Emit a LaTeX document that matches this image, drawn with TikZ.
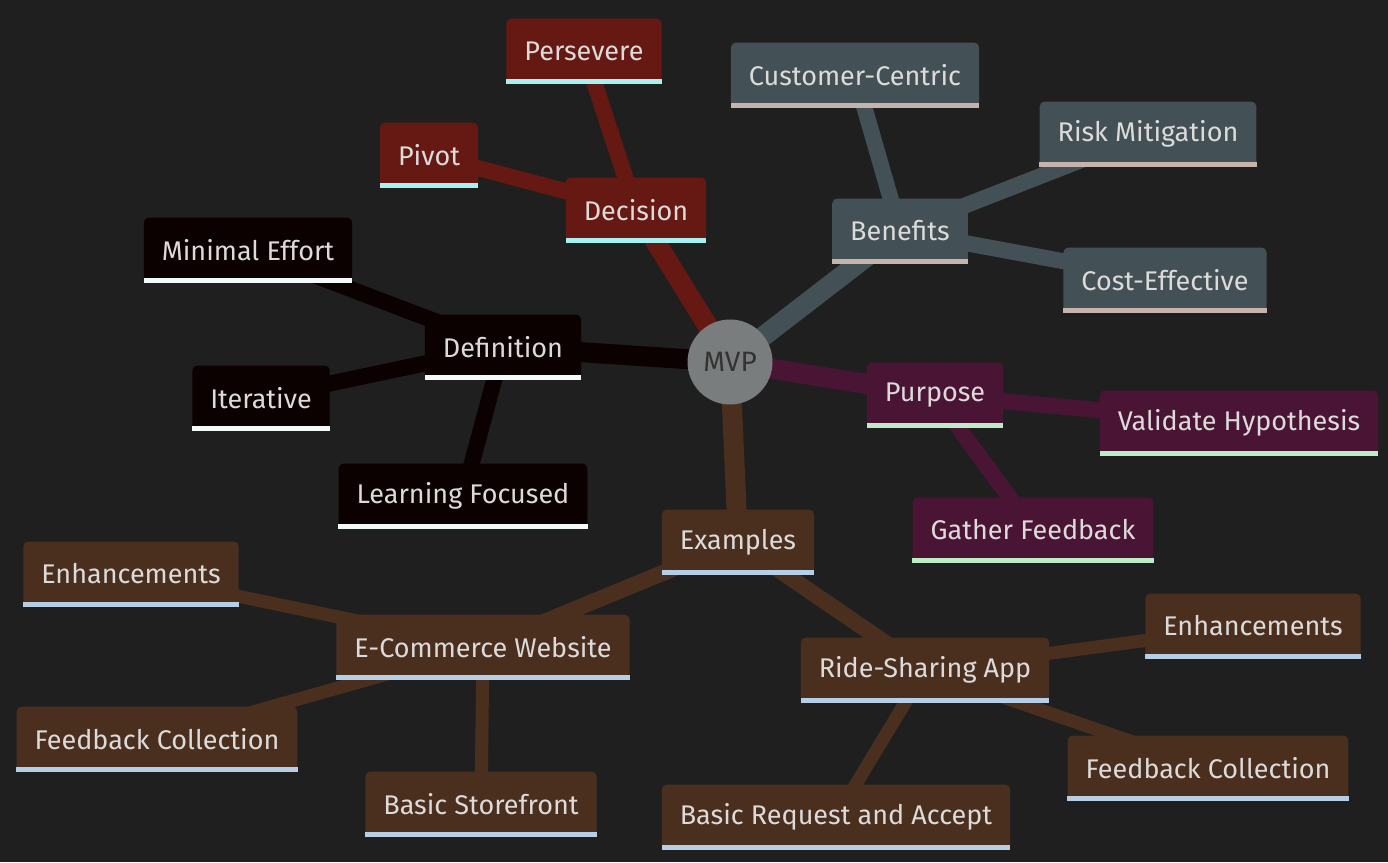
\documentclass[tikz,border=0pt]{standalone}
\usepackage{fontspec}
\setmainfont{Fira Sans}
\usetikzlibrary{backgrounds}
\definecolor{bgc}{HTML}{1F1F1F}
\definecolor{txtc}{HTML}{DDDADA}
\definecolor{rootc}{HTML}{7A7D7D}
\definecolor{decc}{HTML}{661912}
\definecolor{decul}{HTML}{A6F2F2}
\definecolor{benc}{HTML}{435055}
\definecolor{benul}{HTML}{C6B3AB}
\definecolor{defc}{HTML}{0B0101}
\definecolor{deful}{HTML}{F2FAFA}
\definecolor{purc}{HTML}{4A1535}
\definecolor{purul}{HTML}{BCEBC8}
\definecolor{exc}{HTML}{4A2F1F}
\definecolor{exul}{HTML}{B6CFE6}
\tikzset{
    topic/.style={
    rectangle,rounded corners=5pt,minimum height=65pt,inner xsep=18pt,inner ysep=0pt,
    text=txtc,font=\fontsize{27}{31}\selectfont
    },
    root/.style={
    circle,minimum size=85pt,inner sep=0pt,fill=rootc,text=black!80,font=\fontsize{28}{32}\selectfont
    },
    lvlone/.style={line width=20pt},
    lvltwo/.style={line width=16pt},
    lvlthree/.style={line width=13pt},
}
\begin{document}
\begin{tikzpicture}[x=1pt,y=-1pt]
   \useasboundingbox (0,0) rectangle (1388,862);
   \node[root] (mvp) at (730,362) {MVP};
   % decision
   \node[topic,fill=decc] (dec) at (636,210) {Decision};
   \node[topic,fill=decc] (piv) at (429,155) {Pivot};
   \node[topic,fill=decc] (per) at (584,51) {Persevere};
   % benefits
   \node[topic,fill=benc] (ben) at (900,231) {Benefits};
   \node[topic,fill=benc] (cus) at (855,75) {Customer-Centric};
   \node[topic,fill=benc] (risk) at (1148,134) {Risk Mitigation};
   \node[topic,fill=benc] (cost) at (1165,280) {Cost-Effective};
   % definition
   \node[topic,fill=defc] (def) at (503,347) {Definition};
   \node[topic,fill=defc] (mini) at (248,250) {Minimal Effort};
   \node[topic,fill=defc] (iter) at (261,398) {Iterative};
   \node[topic,fill=defc] (learn) at (463,496) {Learning Focused};
   % purpose
   \node[topic,fill=purc] (pur) at (935,395) {Purpose};
   \node[topic,fill=purc] (val) at (1239,423) {Validate Hypothesis};
   \node[topic,fill=purc] (gath) at (1033,530) {Gather Feedback};
   % examples
   \node[topic,fill=exc] (ex) at (738,542) {Examples};
   \node[topic,fill=exc] (ecom) at (483,647) {E-Commerce Website};
   \node[topic,fill=exc] (enhl) at (131,574) {Enhancements};
   \node[topic,fill=exc] (fbl) at (157,739) {Feedback Collection};
   \node[topic,fill=exc] (store) at (481,804) {Basic Storefront};
   \node[topic,fill=exc] (ride) at (925,670) {Ride-Sharing App};
   \node[topic,fill=exc] (enhr) at (1253,626) {Enhancements};
   \node[topic,fill=exc] (fbr) at (1208,768) {Feedback Collection};
   \node[topic,fill=exc] (req) at (836,817) {Basic Request and Accept};

   \foreach \n in {dec,piv,per}
     \fill[decul] (\n.south west) rectangle ([yshift=5pt]\n.south east);
   \foreach \n in {ben,cus,risk,cost}
     \fill[benul] (\n.south west) rectangle ([yshift=5pt]\n.south east);
   \foreach \n in {def,mini,iter,learn}
     \fill[deful] (\n.south west) rectangle ([yshift=5pt]\n.south east);
   \foreach \n in {pur,val,gath}
     \fill[purul] (\n.south west) rectangle ([yshift=5pt]\n.south east);
   \foreach \n in {ex,ecom,enhl,fbl,store,ride,enhr,fbr,req}
     \fill[exul] (\n.south west) rectangle ([yshift=5pt]\n.south east);

   \begin{pgfonlayer}{background}
   \fill[bgc] (0,0) rectangle (1388,862);
   \path[draw=decc]
     (mvp.center) edge[lvlone] (dec.center)
     (dec.center) edge[lvltwo] (piv.center)
                  edge[lvltwo] (per.center);
   \path[draw=benc]
     (mvp.center) edge[lvlone] (ben.center)
     (ben.center) edge[lvltwo] (cus.center)
                  edge[lvltwo] (risk.center)
                  edge[lvltwo] (cost.center);
   \path[draw=defc]
     (mvp.center) edge[lvlone] (def.center)
     (def.center) edge[lvltwo] (mini.center)
                  edge[lvltwo] (iter.center)
                  edge[lvltwo] (learn.center);
   \path[draw=purc]
     (mvp.center) edge[lvlone] (pur.center)
     (pur.center) edge[lvltwo] (val.center)
                  edge[lvltwo] (gath.center);
   \path[draw=exc]
     (mvp.center) edge[lvlone] (ex.center)
     (ex.center) edge[lvltwo] (ecom.center)
                 edge[lvltwo] (ride.center)
     (ecom.center) edge[lvlthree] (enhl.center)
                   edge[lvlthree] (fbl.center)
                   edge[lvlthree] (store.center)
     (ride.center) edge[lvlthree] (enhr.center)
                   edge[lvlthree] (fbr.center)
                   edge[lvlthree] (req.center);
   \end{pgfonlayer}
\end{tikzpicture}
\end{document}
